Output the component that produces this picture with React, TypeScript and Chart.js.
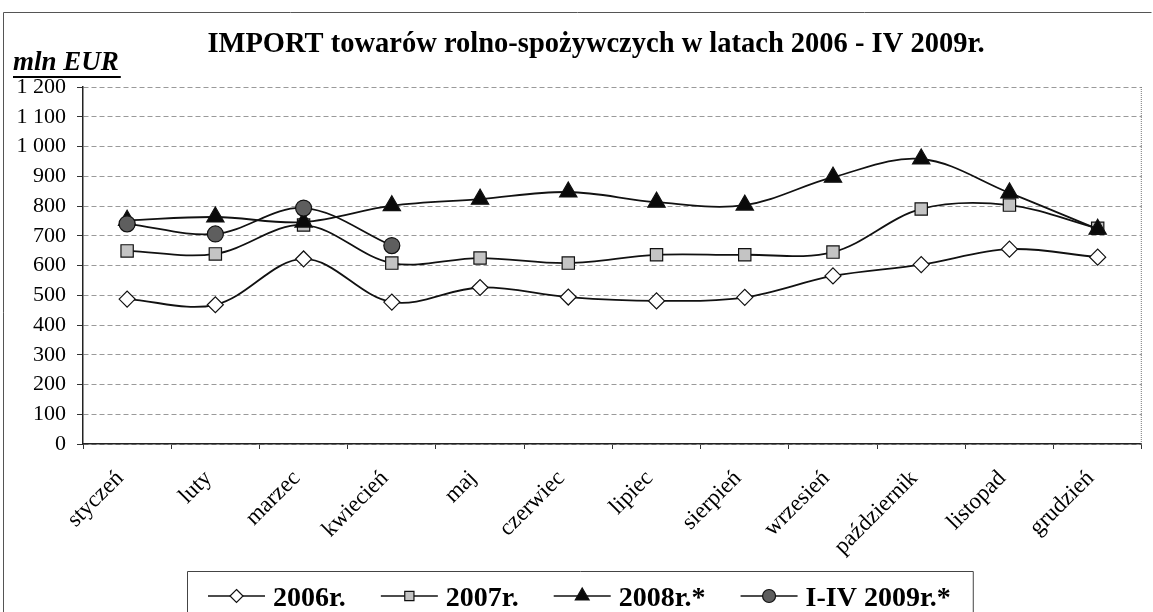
import React, { useEffect, useRef } from "react";
import { Chart, registerables } from "chart.js";

Chart.register(...registerables);

const months = [
  "styczeń", "luty", "marzec", "kwiecień", "maj", "czerwiec",
  "lipiec", "sierpień", "wrzesień", "październik", "listopad", "grudzień",
];
const values2006 = [487, 468, 622, 477, 526, 494, 481, 493, 565, 603, 655, 628];
const values2007 = [649, 639, 736, 608, 625, 608, 636, 636, 645, 790, 803, 725];
const values2008 = [752, 763, 746, 801, 823, 847, 813, 803, 897, 958, 844, 722];
const values2009 = [740, 706, 793, 667];
const seriesLabels = ["2006r.", "2007r.", "2008r.*", "I-IV 2009r.*"];
const titleText = "IMPORT towarów rolno-spożywczych w latach 2006 - IV 2009r.";
const unitText = "mln EUR";

const SERIF = "'Liberation Serif', 'Times New Roman', serif";

function drawMarker(ctx: CanvasRenderingContext2D, style: string, x: number, y: number, r: number, fill: string) {
  ctx.save();
  ctx.beginPath();
  if (style === "rectRot") {
    ctx.moveTo(x, y - r); ctx.lineTo(x + r, y); ctx.lineTo(x, y + r); ctx.lineTo(x - r, y); ctx.closePath();
  } else if (style === "rect") {
    const s = r * Math.SQRT1_2;
    ctx.rect(x - s, y - s, 2 * s, 2 * s);
  } else if (style === "triangle") {
    for (let i = 0; i < 3; i++) {
      const a = (i * 2 * Math.PI) / 3;
      const px = x + Math.sin(a) * r, py = y - Math.cos(a) * r;
      if (i === 0) ctx.moveTo(px, py); else ctx.lineTo(px, py);
    }
    ctx.closePath();
  } else {
    ctx.arc(x, y, r, 0, Math.PI * 2);
  }
  ctx.fillStyle = fill;
  ctx.fill();
  ctx.lineWidth = 1.2;
  ctx.strokeStyle = "#111";
  ctx.stroke();
  ctx.restore();
}

const decorPlugin = {
  id: "decor",
  afterDraw(chart: any) {
    const ctx: CanvasRenderingContext2D = chart.ctx;
    const a = chart.chartArea;
    ctx.save();
    // outer frame
    ctx.strokeStyle = "#555";
    ctx.lineWidth = 1;
    ctx.beginPath();
    ctx.moveTo(3.5, 613); ctx.lineTo(3.5, 12.5); ctx.lineTo(1151.5, 12.5);
    ctx.stroke();
    // plot right border dotted
    ctx.strokeStyle = "#777";
    ctx.setLineDash([1, 1]);
    ctx.beginPath();
    ctx.moveTo(a.right - 0.5, a.top); ctx.lineTo(a.right - 0.5, a.bottom);
    ctx.stroke();
    ctx.setLineDash([]);
    // title
    ctx.fillStyle = "#000";
    ctx.font = `bold 28.5px ${SERIF}`;
    ctx.textAlign = "center";
    ctx.textBaseline = "alphabetic";
    ctx.fillText(titleText, 596, 52);
    // unit
    ctx.font = `italic bold 27px ${SERIF}`;
    ctx.textAlign = "left";
    ctx.fillText(unitText, 13, 70);
    const w = ctx.measureText(unitText).width;
    ctx.fillRect(13, 76, w + 2, 2);
    // legend
    ctx.font = `bold 28px ${SERIF}`;
    const boxLeft = 187, boxTop = 571;
    let x = boxLeft + 21;
    const cy = 596;
    chart.data.datasets
      .slice()
      .sort((p: any, q: any) => p.legendIdx - q.legendIdx)
      .forEach((ds: any, i: number) => {
        ctx.strokeStyle = "#111";
        ctx.lineWidth = 1.5;
        ctx.beginPath();
        ctx.moveTo(x, cy); ctx.lineTo(x + 57, cy);
        ctx.stroke();
        drawMarker(ctx, ds.pointStyle, x + 28.5, cy, ds.pointStyle === "triangle" ? 8 : 6.5, ds.pointBackgroundColor);
        x += 65;
        ctx.fillStyle = "#000";
        ctx.textBaseline = "alphabetic";
        ctx.fillText(ds.label, x, 606);
        x += ctx.measureText(ds.label).width;
        if (i < 3) x += 35;
      });
    const boxRight = x + 22;
    ctx.strokeStyle = "#444";
    ctx.lineWidth = 1;
    ctx.beginPath();
    ctx.moveTo(boxLeft + 0.5, 613); ctx.lineTo(boxLeft + 0.5, boxTop + 0.5);
    ctx.lineTo(boxRight + 0.5, boxTop + 0.5); ctx.lineTo(boxRight + 0.5, 613);
    ctx.stroke();
    ctx.restore();
  },
};

export default function App() {
  const ref = useRef<HTMLCanvasElement | null>(null);
  useEffect(() => {
    if (!ref.current) return;
    const common = {
      borderColor: "#111",
      borderWidth: 1.8,
      tension: 0.35,
      pointBorderColor: "#111",
      pointBorderWidth: 1.2,
      fill: false,
    };
    const chart = new Chart(ref.current, {
      type: "line",
      data: {
        labels: months,
        datasets: [
          { ...common, label: seriesLabels[3], data: values2009, pointStyle: "circle", pointRadius: 8, pointBackgroundColor: "#5e5e5e", order: 0, legendIdx: 3 } as any,
          { ...common, label: seriesLabels[2], data: values2008, pointStyle: "triangle", pointRadius: 10, pointBackgroundColor: "#0a0a0a", order: 1, legendIdx: 2 } as any,
          { ...common, label: seriesLabels[1], data: values2007, pointStyle: "rect", pointRadius: 8.7, pointBackgroundColor: "#c4c4c4", order: 2, legendIdx: 1 } as any,
          { ...common, label: seriesLabels[0], data: values2006, pointStyle: "rectRot", pointRadius: 8, pointBackgroundColor: "#ffffff", order: 3, legendIdx: 0 } as any,
        ],
      },
      options: {
        animation: false,
        responsive: false,
        maintainAspectRatio: false,
        layout: { padding: { left: 3, right: 5, top: 87, bottom: 28 } },
        plugins: { legend: { display: false }, title: { display: false }, tooltip: { enabled: false } },
        scales: {
          x: {
            offset: true,
            grid: { offset: true, drawOnChartArea: false, tickLength: 5, tickColor: "#333" },
            border: { display: true, color: "#222", width: 1.5 },
            ticks: {
              color: "#000",
              font: { family: SERIF, size: 23 },
              minRotation: 45,
              maxRotation: 45,
              padding: 16,
              labelOffset: -7,
              autoSkip: false,
            },
            afterFit: (s: any) => { s.height = 140; },
          },
          y: {
            min: 0,
            max: 1200,
            grid: { color: "#9a9a9a", tickColor: "#333", tickLength: 6, lineWidth: 1 },
            border: { display: true, color: "#222", width: 1.5, dash: [5, 3] },
            ticks: {
              stepSize: 100,
              color: "#000",
              font: { family: SERIF, size: 22 },
              padding: 11,
              callback: (v: any) => {
                const n = Number(v);
                return n >= 1000 ? `${Math.floor(n / 1000)} ${String(n % 1000).padStart(3, "0")}` : String(n);
              },
            },
            afterFit: (s: any) => { s.width = 80; },
          },
        },
      },
      plugins: [decorPlugin],
    });
    return () => chart.destroy();
  }, []);
  return (
    <div style={{ position: "fixed", left: 0, top: 0, width: 1153, height: 612, background: "#fff" }}>
      <canvas ref={ref} width={1153} height={612} style={{ width: 1153, height: 612, display: "block" }} />
    </div>
  );
}
